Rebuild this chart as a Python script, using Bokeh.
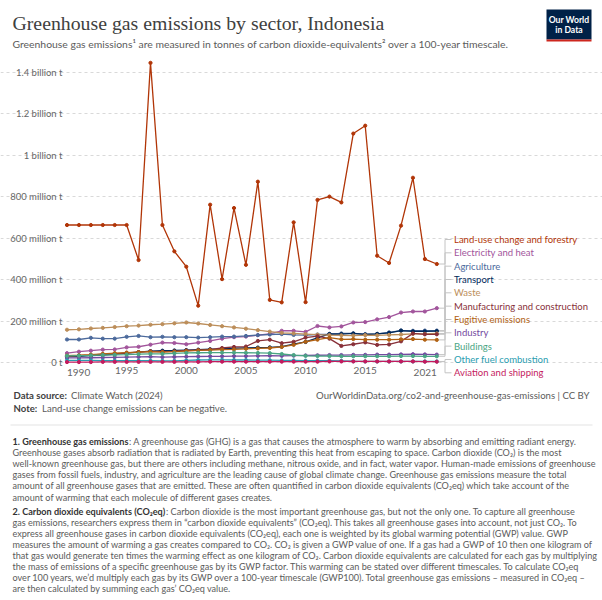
from bokeh.plotting import figure
from bokeh.models import Range1d, FixedTicker, Label, Arrow, BoxAnnotation
from bokeh.embed import file_html
from bokeh.resources import INLINE

# ---------------- data (million tonnes CO2eq) ----------------
years = list(range(1990, 2022))

land_use = [663, 663, 663, 663, 663, 663, 494, 1445, 663, 536, 462, 274, 761, 402, 745, 471,
            872, 302, 290, 676, 291, 784, 800, 772, 1104, 1142, 515, 480, 660, 891, 499, 475]
electricity = [45, 52, 57, 62, 63, 73, 76, 86, 96, 94, 88, 96, 104, 115, 122, 125,
               132, 138, 153, 153, 148, 176, 169, 174, 193, 195, 208, 219, 241, 246, 246, 262]
agriculture = [111, 111, 119, 115, 115, 124, 128, 122, 124, 122, 122, 120, 122, 125, 125, 128,
               132, 135, 137, 133, 132, 135, 137, 140, 140, 137, 138, 145, 154, 153, 154, 154]
transport = [28, 30, 33, 36, 40, 45, 50, 55, 57, 58, 60, 62, 64, 66, 69, 71,
             72, 73, 76, 89, 99, 119, 138, 137, 140, 135, 138, 143, 154, 150, 150, 151]
waste = [158, 160, 164, 167, 171, 175, 178, 182, 185, 189, 193, 188, 181, 175, 169, 163,
         156, 149, 143, 140, 137, 134, 132, 131, 130, 132, 131, 133, 135, 138, 138, 140]
manufacturing = [30, 33, 36, 40, 42, 46, 50, 54, 52, 54, 58, 60, 62, 70, 75, 77,
                 104, 110, 93, 100, 120, 127, 115, 80, 88, 97, 85, 87, 102, 140, 136, 136]
fugitive = [33, 35, 38, 42, 45, 48, 50, 52, 50, 52, 55, 58, 60, 62, 63, 66,
            68, 70, 75, 85, 100, 110, 120, 112, 113, 110, 110, 110, 112, 113, 110, 109]
industry = [22, 22, 23, 24, 25, 26, 27, 28, 26, 27, 28, 29, 30, 30, 31, 31,
            32, 33, 32, 33, 34, 35, 36, 36, 37, 37, 38, 38, 39, 40, 39, 38]
buildings = [32, 33, 34, 36, 37, 38, 40, 42, 42, 44, 46, 47, 48, 48, 48, 47,
             46, 45, 41, 36, 32, 31, 31, 30, 30, 30, 30, 30, 31, 31, 30, 30]
other_fuel = [10, 10, 10, 9, 9, 9, 9, 9, 8, 8, 10, 12, 13, 13, 12, 12,
              11, 11, 10, 10, 9, 9, 9, 8, 6, 5, 5, 5, 5, 5, 5, 5]
aviation = [2, 2, 2, 3, 3, 3, 3, 3, 3, 3, 3, 3, 4, 4, 4, 4,
            4, 4, 4, 4, 4, 4, 5, 5, 5, 5, 5, 5, 5, 5, 4, 4]

series_names = ["Land-use change and forestry", "Electricity and heat", "Agriculture",
                "Transport", "Waste", "Manufacturing and construction", "Fugitive emissions",
                "Industry", "Buildings", "Other fuel combustion", "Aviation and shipping"]
series_values = [land_use, electricity, agriculture, transport, waste, manufacturing,
                 fugitive, industry, buildings, other_fuel, aviation]
series_colors = ["#b13507", "#a2559c", "#4c6a9c", "#00295b", "#bc8e5a", "#883039",
                 "#b16214", "#744aa0", "#4aa584", "#2a9db0", "#c41a5e"]

y_ticks = [0, 200, 400, 600, 800, 1000, 1200, 1400]
y_tick_labels = ["0 t", "200 million t", "400 million t", "600 million t", "800 million t",
                 "1 billion t", "1.2 billion t", "1.4 billion t"]
x_ticks = [1995, 2000, 2005, 2010, 2015]

# ---------------- layout helpers (page pixel -> plot coords) ----------------
W, H = 602, 600
K = 11.929      # px per year
X0 = 66.5       # px of first year
Y0 = 362.0      # px of zero
PPM = 0.20736   # px per million t


def rx(X):
    return years[0] + (X - X0) / K


def ry(Y):
    return (Y0 - Y) / PPM


p = figure(width=W, height=H, x_range=Range1d(rx(0), rx(W)), y_range=Range1d(ry(H), ry(0)),
           min_border=0, min_border_left=0, min_border_right=0, min_border_top=0,
           min_border_bottom=0, output_backend="svg", toolbar_location=None)
p.outline_line_color = None

p.yaxis.ticker = FixedTicker(ticks=y_ticks)
p.yaxis.major_label_overrides = dict(zip(y_ticks, y_tick_labels))
p.yaxis.axis_line_color = None
p.yaxis.major_tick_line_color = None
p.yaxis.minor_tick_line_color = None
p.yaxis.major_tick_out = 0
p.yaxis.major_label_standoff = -62
p.yaxis.major_label_text_font = "Lato"
p.yaxis.major_label_text_font_size = "9.5px"
p.yaxis.major_label_text_color = "#666666"

p.xaxis.ticker = FixedTicker(ticks=x_ticks)
p.xaxis.axis_line_color = None
p.xaxis.major_tick_line_color = None
p.xaxis.minor_tick_line_color = None
p.xaxis.major_tick_out = 0
p.xaxis.major_label_standoff = -(H - 366)
p.xaxis.major_label_text_font = "Lato"
p.xaxis.major_label_text_font_size = "10px"
p.xaxis.major_label_text_color = "#666666"

p.xgrid.grid_line_color = None
p.ygrid.grid_line_color = "#d9d9d9"
p.ygrid.grid_line_dash = "3 3"
p.ygrid.bounds = (years[0], years[-1])


def lab(text, X, Y, size, color, bold=False, align="left", font="Lato"):
    p.add_layout(Label(x=rx(X), y=ry(Y), text=text, text_align=align, text_baseline="middle",
                       text_font=font, text_font_size=size, text_color=color,
                       text_font_style="bold" if bold else "normal"))


def box(l, r, t, b, color):
    p.add_layout(BoxAnnotation(left=rx(l), right=rx(r), top=ry(t), bottom=ry(b),
                               fill_color=color, fill_alpha=1, line_color=None))


for yr, al in ((years[0], "left"), (years[-1], "right")):
    p.add_layout(Label(x=yr, y=ry(372), text=str(yr), text_align=al,
                       text_baseline="middle", text_font="Lato", text_font_size="10px",
                       text_color="#666666"))

# ---------------- series ----------------
for name, vals, col in zip(series_names, series_values, series_colors):
    p.line(years, vals, line_color=col, line_width=1.3)
    p.scatter(years, vals, size=3.2, fill_color=col, line_color=col)

for i, (name, vals, col) in enumerate(zip(series_names, series_values, series_colors)):
    ly = 239 + 13.33 * i
    pts = [(rx(438.5), vals[-1]), (rx(444.5), vals[-1]), (rx(444.5), ry(ly)), (rx(451), ry(ly))]
    for (xa, ya), (xb, yb) in zip(pts[:-1], pts[1:]):
        p.add_layout(Arrow(end=None, x_start=xa, y_start=ya, x_end=xb, y_end=yb,
                           line_color="#c4c4c4", line_width=1))
    lab(name, 453.5, ly, "9.5px", col)

# ---------------- header ----------------
lab("Greenhouse gas emissions by sector, Indonesia", 12, 22, "19.8px", "#404040",
    font="Liberation Serif")
lab("Greenhouse gas emissions\u00b9 are measured in tonnes of carbon dioxide-equivalents\u00b2 "
    "over a 100-year timescale.", 12, 43, "10.4px", "#5b5b5b")
box(546, 591, 9, 39, "#002147")
box(546, 591, 39, 41, "#ce261e")
lab("Our World", 568.5, 19.5, "8.6px", "white", bold=True, align="center")
lab("in Data", 568.5, 29.5, "8.6px", "white", bold=True, align="center")

# ---------------- footer ----------------
lab("Data source:", 13, 395, "9.6px", "#404040", bold=True)
lab("Climate Watch (2024)", 70.5, 395, "9.6px", "#5b5b5b")
lab("Note:", 13, 408, "9.6px", "#404040", bold=True)
lab("Land-use change emissions can be negative.", 41.5, 408, "9.6px", "#5b5b5b")
lab("OurWorldinData.org/co2-and-greenhouse-gas-emissions | CC BY", 589, 395, "9.6px",
    "#5b5b5b", align="right")
box(10, 592, 424, 425, "#e3e3e3")

para1 = [
    ("1. Greenhouse gas emissions", ": A greenhouse gas (GHG) is a gas that causes the atmosphere to warm by absorbing and emitting radiant energy."),
    ("", "Greenhouse gases absorb radiation that is radiated by Earth, preventing this heat from escaping to space. Carbon dioxide (CO\u2082) is the most"),
    ("", "well-known greenhouse gas, but there are others including methane, nitrous oxide, and in fact, water vapor. Human-made emissions of greenhouse"),
    ("", "gases from fossil fuels, industry, and agriculture are the leading cause of global climate change. Greenhouse gas emissions measure the total"),
    ("", "amount of all greenhouse gases that are emitted. These are often quantified in carbon dioxide equivalents (CO\u2082eq) which take account of the"),
    ("", "amount of warming that each molecule of different gases creates."),
]
para2 = [
    ("2. Carbon dioxide equivalents (CO\u2082eq)", ": Carbon dioxide is the most important greenhouse gas, but not the only one. To capture all greenhouse"),
    ("", "gas emissions, researchers express them in \u201ccarbon dioxide equivalents\u201d (CO\u2082eq). This takes all greenhouse gases into account, not just CO\u2082. To"),
    ("", "express all greenhouse gases in carbon dioxide equivalents (CO\u2082eq), each one is weighted by its global warming potential (GWP) value. GWP"),
    ("", "measures the amount of warming a gas creates compared to CO\u2082. CO\u2082 is given a GWP value of one. If a gas had a GWP of 10 then one kilogram of"),
    ("", "that gas would generate ten times the warming effect as one kilogram of CO\u2082. Carbon dioxide equivalents are calculated for each gas by multiplying"),
    ("", "the mass of emissions of a specific greenhouse gas by its GWP factor. This warming can be stated over different timescales. To calculate CO\u2082eq"),
    ("", "over 100 years, we\u2019d multiply each gas by its GWP over a 100-year timescale (GWP100). Total greenhouse gas emissions \u2013 measured in CO\u2082eq \u2013"),
    ("", "are then calculated by summing each gas\u2019 CO\u2082eq value."),
]
bold_w = {para1[0][0]: 116.5, para2[0][0]: 153.5}
for start, step, para in ((441, 11.1, para1), (510.5, 11.1, para2)):
    for j, (b, r) in enumerate(para):
        yy = start + step * j
        x = 12
        if b:
            lab(b, x, yy, "9.1px", "#333333", bold=True)
            x += bold_w[b]
        lab(r, x, yy, "9.1px", "#5b5b5b")

open("out.html", "w").write(file_html(p, INLINE))
